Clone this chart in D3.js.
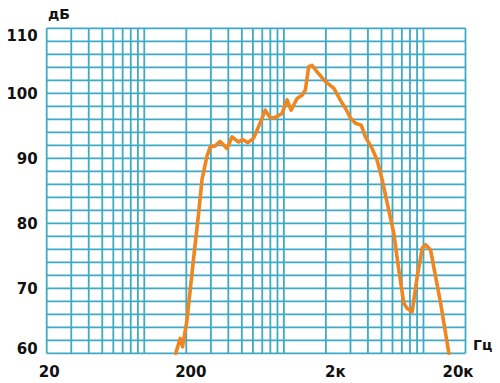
<!DOCTYPE html>
<html>
<head>
<meta charset="utf-8">
<script src="https://cdn.jsdelivr.net/npm/d3@7"></script>
<style>
  body { margin: 0; background: #fff; }
  text { font-family: "DejaVu Sans", Verdana, sans-serif; font-weight: bold; fill: #111; }
</style>
</head>
<body>
<svg id="chart" width="500" height="383"></svg>
<script>
// frequency response, Hz / dB
var freqs = [168, 181, 188, 202, 225, 245, 259, 281, 297, 322, 350, 391, 425, 473, 506, 553, 607,
  678, 736, 800, 869, 970, 1054, 1126, 1242, 1349, 1425, 1506, 1592, 1730, 1984, 2276, 2613,
  2760, 3000, 3258, 3580, 3838, 4287, 4657, 5060, 5497, 6127, 6657, 7230, 7650, 8300, 9020,
  9800, 10350, 11240, 12210, 13270, 15200];
var levels = [60, 62.3, 61.0, 65.0, 74.4, 81.5, 86.7, 90.3, 91.8, 91.9, 92.6, 91.5, 93.3, 92.5, 92.9, 92.4, 93.1,
  95.5, 97.4, 96.2, 96.3, 96.9, 99.0, 97.4, 99.2, 99.7, 100.5, 104.1, 104.3, 103.3, 101.8, 100.8, 98.5,
  97.7, 96.2, 95.4, 95.1, 93.3, 91.5, 89.7, 86.7, 83.1, 78.5, 72.8, 67.7, 66.9, 66.4, 71.8,
  76.2, 76.7, 75.9, 71.8, 67.7, 60];

var xTicks = [20, 200, 2000, 20000];
var xTickLabels = ["20", "200", "2к", "20к"];
var yTicks = [60, 70, 80, 90, 100, 110];
var yUnit = "дБ", xUnit = "Гц";

var svg = d3.select("#chart");
var margin = {left: 46.7, right: 465.5, top: 28.3, bottom: 353.3};

var x = d3.scaleLog().domain([20, 20000]).range([margin.left, margin.right]);
var y = d3.scaleLinear().domain([60, 110]).range([margin.bottom, margin.top]);

var gridColor = "#3eaac3";

// grid: every 2 dB, and 1..10 steps of each decade
var hLines = d3.range(60, 111, 2);
var vLines = [];
[10, 100, 1000, 10000].forEach(function(d){
  for (var k = 1; k <= 10; k++) {
    var v = d * k;
    if (v >= 20 && v <= 20000 && vLines.indexOf(v) < 0) vLines.push(v);
  }
});

svg.append("g").selectAll("line").data(hLines).join("line")
    .attr("x1", margin.left).attr("x2", margin.right)
    .attr("y1", d => y(d)).attr("y2", d => y(d))
    .attr("stroke", gridColor).attr("stroke-width", 1.8);

svg.append("g").selectAll("line").data(vLines).join("line")
    .attr("x1", d => x(d)).attr("x2", d => x(d))
    .attr("y1", margin.top).attr("y2", margin.bottom)
    .attr("stroke", gridColor).attr("stroke-width", 1.8);

// curve
var pts = freqs.map((f, i) => [f, levels[i]]);
var line = d3.line().x(d => x(d[0])).y(d => y(d[1]));
svg.append("path")
    .datum(pts)
    .attr("fill", "none")
    .attr("stroke", "#f0861f")
    .attr("stroke-width", 3.6)
    .attr("stroke-linejoin", "round")
    .attr("stroke-linecap", "round")
    .attr("d", line);

// axes labels
var xAxis = svg.append("g")
    .attr("transform", "translate(0," + margin.bottom + ")")
    .call(d3.axisBottom(x).tickValues(xTicks).tickFormat((d, i) => xTickLabels[i]).tickSize(0).tickPadding(13));
xAxis.select(".domain").remove();
xAxis.selectAll("text")
    .attr("font-size", 15)
    .attr("font-family", null)
    .attr("dx", (d, i) => [2, 4, 9, -8][i]);

var yAxis = svg.append("g")
    .attr("transform", "translate(" + margin.left + ",0)")
    .call(d3.axisLeft(y).tickValues(yTicks).tickSize(0).tickPadding(9));
yAxis.select(".domain").remove();
yAxis.selectAll("text")
    .attr("font-size", 15)
    .attr("font-family", null)
    .attr("dy", d => d == 110 ? "0.78em" : d == 60 ? "0.0em" : "0.32em");

svg.append("text").attr("x", 48).attr("y", 19).attr("font-size", 14).text(yUnit);
svg.append("text").attr("x", 473).attr("y", 350).attr("font-size", 14).text(xUnit);
</script>
</body>
</html>
